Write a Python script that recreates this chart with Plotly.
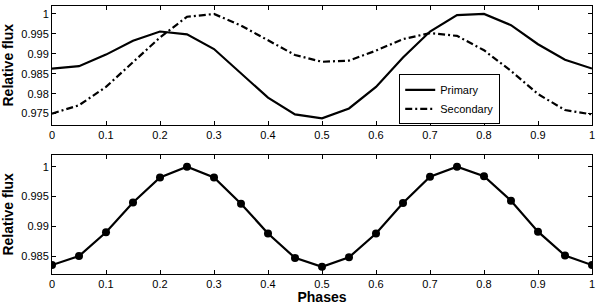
import plotly.graph_objects as go

phases = [0, 0.05, 0.1, 0.15, 0.2, 0.25, 0.3, 0.35, 0.4, 0.45, 0.5,
          0.55, 0.6, 0.65, 0.7, 0.75, 0.8, 0.85, 0.9, 0.95, 1.0]
primary = [0.9863, 0.9869, 0.9898, 0.9933, 0.9956, 0.9949, 0.9912, 0.9851, 0.9790, 0.9748, 0.9738,
           0.9763, 0.9817, 0.9891, 0.9956, 0.9997, 1.0, 0.9972, 0.9924, 0.9885, 0.9863]
secondary = [0.9750, 0.9771, 0.9817, 0.9878, 0.9941, 0.9993, 1.0, 0.9971, 0.9933, 0.9897, 0.9880,
             0.9883, 0.9908, 0.9937, 0.9952, 0.9945, 0.9909, 0.9857, 0.9799, 0.9759, 0.9748]
combined = [0.9835, 0.9850, 0.9890, 0.9940, 0.9982, 1.0, 0.9982, 0.9938, 0.9888, 0.9847, 0.9832,
            0.9848, 0.9888, 0.9939, 0.9983, 1.0, 0.9984, 0.9943, 0.9891, 0.9851, 0.9835]

xticks = [0, 0.1, 0.2, 0.3, 0.4, 0.5, 0.6, 0.7, 0.8, 0.9, 1]
xticklabels = ["0", "0.1", "0.2", "0.3", "0.4", "0.5", "0.6", "0.7", "0.8", "0.9", "1"]
yticks_top = [0.975, 0.98, 0.985, 0.99, 0.995, 1.0]
yticklabels_top = ["0.975", "0.98", "0.985", "0.99", "0.995", "1"]
yticks_bot = [0.985, 0.99, 0.995, 1.0]
yticklabels_bot = ["0.985", "0.99", "0.995", "1"]

fig = go.Figure()
fig.add_trace(go.Scatter(x=phases, y=primary, mode="lines", name="Primary",
                         line=dict(color="black", width=2.2), xaxis="x", yaxis="y"))
fig.add_trace(go.Scatter(x=phases, y=secondary, mode="lines", name="Secondary",
                         line=dict(color="black", width=2.2, dash="7px,3px,2px,3px"),
                         xaxis="x", yaxis="y"))
fig.add_trace(go.Scatter(x=phases, y=combined, mode="lines+markers", showlegend=False,
                         line=dict(color="black", width=2.2),
                         marker=dict(color="black", size=8),
                         xaxis="x2", yaxis="y2"))

axis_common = dict(showline=True, linecolor="black", linewidth=1, mirror="ticks",
                   ticks="inside", ticklen=4, tickcolor="black", showgrid=False,
                   zeroline=False, tickfont=dict(size=11, color="black"))

fig.update_layout(
    width=600, height=305,
    margin=dict(l=52, r=5, t=5, b=31),
    paper_bgcolor="white", plot_bgcolor="white",
    font=dict(family="Liberation Sans, Arial, sans-serif", color="black"),
    xaxis=dict(domain=[0, 1], range=[0, 1], anchor="y", tickvals=xticks,
               ticktext=xticklabels, **axis_common),
    yaxis=dict(domain=[0.5576, 1], range=[0.97225, 1.002], anchor="x",
               tickvals=yticks_top, ticktext=yticklabels_top,
               title=dict(text="<b>Relative flux</b>", font=dict(size=14), standoff=4),
               **axis_common),
    xaxis2=dict(domain=[0, 1], range=[0, 1], anchor="y2", tickvals=xticks,
                ticktext=xticklabels,
                title=dict(text="<b>Phases</b>", font=dict(size=14), standoff=0),
                **axis_common),
    yaxis2=dict(domain=[0, 0.445], range=[0.982, 1.002], anchor="x2",
                tickvals=yticks_bot, ticktext=yticklabels_bot,
                title=dict(text="<b>Relative flux</b>", font=dict(size=14), standoff=4),
                **axis_common),
    legend=dict(x=0.643, y=0.745, xanchor="left", yanchor="top",
                bordercolor="black", borderwidth=1, bgcolor="white",
                font=dict(size=11), tracegroupgap=0, itemwidth=30),
    showlegend=True,
)

fig.write_html("out.html", config={"displayModeBar": False},
               post_script="document.body.style.margin='0';document.body.style.padding='0';")
